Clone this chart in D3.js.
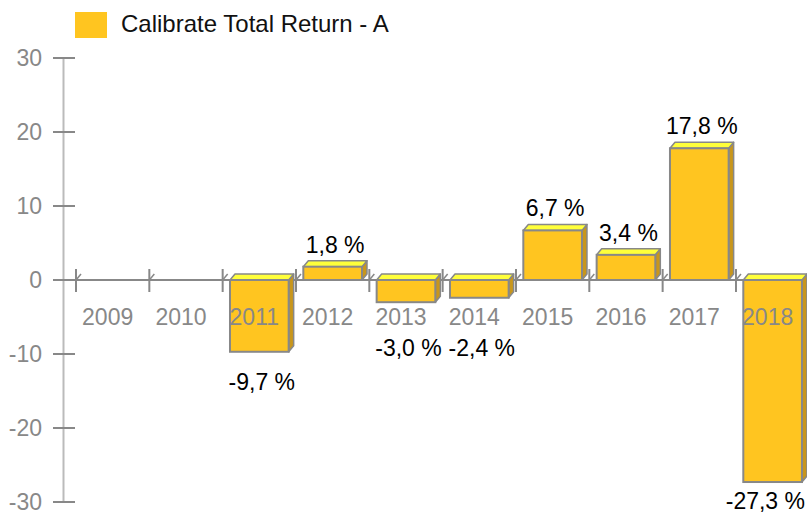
<!DOCTYPE html>
<html>
<head>
<meta charset="utf-8">
<script src="https://cdn.jsdelivr.net/npm/d3@7"></script>
<style>
  body { margin: 0; background: #fff; }
  svg { display: block; font-family: "Liberation Sans", Arial, sans-serif; }
</style>
</head>
<body>
<svg id="chart" width="807" height="515"></svg>
<script>
const years = ['2009', '2010', '2011', '2012', '2013', '2014', '2015', '2016', '2017', '2018']
const returns = [null, null, -9.7, 1.8, -3.0, -2.4, 6.7, 3.4, 17.8, -27.3]
const yTicks = [-30, -20, -10, 0, 10, 20, 30]
const seriesName = 'Calibrate Total Return - A'

const svg = d3.select('#chart')
const width = 807
const height = 515

const x = d3.scaleBand().domain(years).range([76, 809.3])
const y = d3.scaleLinear().domain([-30, 30]).range([502, 58])
const bw = x.bandwidth()

// 3d depth of the bars
const dx = 5
const dy = -6

const front = '#ffc520'
const topFace = '#ffff3a'
const side = '#c8961c'
const edge = '#888'

// comma decimals, plain hyphen for minus
const fmt = v => v.toFixed(1).replace('.', ',') + ' %'

// legend
svg.append('rect')
    .attr('x', 75).attr('y', 12)
    .attr('width', 32).attr('height', 26)
    .style('fill', front)
svg.append('text')
    .attr('x', 121).attr('y', 32)
    .text(seriesName)
    .style('font-size', '24px')
    .style('fill', '#111')

// y axis
svg.append('line')
    .attr('x1', 63.5).attr('x2', 63.5)
    .attr('y1', y(30)).attr('y2', y(-30))
    .style('stroke', '#bbb').style('stroke-width', 2)

svg.selectAll('.ytick')
    .data(yTicks)
    .join('line')
    .attr('class', 'ytick')
    .attr('x1', 53).attr('x2', 75)
    .attr('y1', d => y(d)).attr('y2', d => y(d))
    .style('stroke', edge).style('stroke-width', 2)

svg.selectAll('.ylabel')
    .data(yTicks)
    .join('text')
    .attr('class', 'ylabel')
    .attr('x', 42)
    .attr('y', d => y(d) + 8)
    .attr('text-anchor', 'end')
    .text(d => d)
    .style('font-size', '23px')
    .style('fill', '#888')

// x axis
svg.append('line')
    .attr('x1', 53).attr('x2', width)
    .attr('y1', y(0)).attr('y2', y(0))
    .style('stroke', edge).style('stroke-width', 2)

const bounds = years.map(d => x(d))
svg.selectAll('.xtick')
    .data(bounds)
    .join('line')
    .attr('class', 'xtick')
    .attr('x1', d => d).attr('x2', d => d)
    .attr('y1', y(0) - 11).attr('y2', y(0) + 12)
    .style('stroke', edge).style('stroke-width', 2)
svg.selectAll('.xslash')
    .data(bounds)
    .join('line')
    .attr('class', 'xslash')
    .attr('x1', d => d).attr('x2', d => d + dx)
    .attr('y1', y(0)).attr('y2', y(0) + dy)
    .style('stroke', edge).style('stroke-width', 1.5)

// bars
const data = years.map((d, i) => ({ year: d, value: returns[i] })).filter(d => d.value !== null)

const bars = svg.selectAll('.bar')
    .data(data)
    .join('g')
    .attr('class', 'bar')

bars.each(function (d) {
    const g = d3.select(this)
    const x0 = x(d.year) + bw * 0.1
    const x1 = x0 + bw * 0.8
    const yt = Math.min(y(d.value), y(0))
    const yb = Math.max(y(d.value), y(0))

    g.append('path')
        .attr('d', `M${x1},${yt}L${x1 + dx},${yt + dy}L${x1 + dx},${yb + dy}L${x1},${yb}Z`)
        .style('fill', side).style('stroke', edge).style('stroke-width', 1.5)
        .style('stroke-linejoin', 'round')
    g.append('path')
        .attr('d', `M${x0},${yt}L${x0 + dx},${yt + dy}L${x1 + dx},${yt + dy}L${x1},${yt}Z`)
        .style('fill', topFace).style('stroke', edge).style('stroke-width', 1.5)
        .style('stroke-linejoin', 'round')
    g.append('rect')
        .attr('x', x0).attr('y', yt)
        .attr('width', x1 - x0).attr('height', yb - yt)
        .style('fill', front).style('stroke', edge).style('stroke-width', 2)
})

// year labels sit on top of the bars
svg.selectAll('.xlabel')
    .data(years)
    .join('text')
    .attr('class', 'xlabel')
    .attr('x', d => x(d) + bw / 2 - 5)
    .attr('y', 324.5)
    .attr('text-anchor', 'middle')
    .text(d => d)
    .style('font-size', '23px')
    .style('fill', '#888')

// value labels
svg.selectAll('.vlabel')
    .data(data)
    .join('text')
    .attr('class', 'vlabel')
    .attr('x', d => x(d.year) + bw / 2 + dx / 2)
    .attr('y', d => {
        if (d.value >= 0) return y(d.value) + dy - 8
        return Math.min(509, Math.max(356, y(d.value) + 38))
    })
    .attr('text-anchor', 'middle')
    .text(d => fmt(d.value))
    .style('font-size', '23px')
    .style('fill', '#000')
    .each(function () {
        // keep labels inside the right edge
        const b = this.getBBox()
        const over = b.x + b.width - (width - 2)
        if (over > 0) d3.select(this).attr('x', +d3.select(this).attr('x') - over)
    })
</script>
</body>
</html>
